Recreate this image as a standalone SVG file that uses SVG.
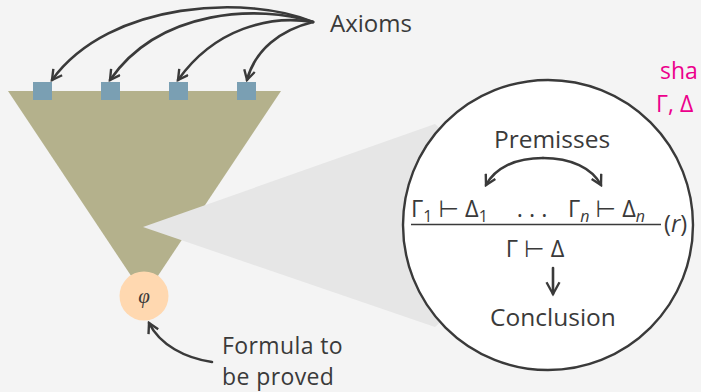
<svg xmlns="http://www.w3.org/2000/svg" width="701" height="392" viewBox="0 0 701 392">
<style>
.t{font-family:"Open Sans","Noto Sans","DejaVu Sans",sans-serif;fill:#3a3a3a;font-size:24px}
.m{font-family:"Open Sans","DejaVu Sans",sans-serif;fill:#3a3a3a;font-size:23.5px}
.sub{font-size:16px}
.pk{font-family:"Open Sans","DejaVu Sans",sans-serif;fill:#ec008c;font-size:23px}
.c{fill:none;stroke:#3a3a3a;stroke-width:2.6;stroke-linecap:round}
</style>
<defs>
<marker id="ah" viewBox="0 0 12 12" refX="10" refY="6" markerWidth="5" markerHeight="5" orient="auto" markerUnits="strokeWidth">
<path d="M1,1 L10,6 L1,11" fill="none" stroke="#3a3a3a" stroke-width="2.2" stroke-linejoin="miter"/>
</marker>
<marker id="ah2" viewBox="0 0 12 12" refX="10" refY="6" markerWidth="6" markerHeight="6" orient="auto" markerUnits="strokeWidth">
<path d="M1,1 L10,6 L1,11" fill="none" stroke="#3a3a3a" stroke-width="1.8" stroke-linejoin="miter"/>
</marker>
</defs>
<rect width="701" height="392" fill="#f4f4f4"/>
<g id="tree">
<polygon points="8,91 281,91 144.5,296" fill="#b4b18c"/>
</g>
<g id="wedge"><polygon points="143,227 435,124 548,225 435,327" fill="#e6e6e6"/></g>
<g id="axiom1"><rect x="33" y="82" width="19" height="18" fill="#7a9fb3"/></g>
<g id="axiom2"><rect x="101" y="82" width="19" height="18" fill="#7a9fb3"/></g>
<g id="axiom3"><rect x="169" y="82" width="19" height="18" fill="#7a9fb3"/></g>
<g id="axiom4"><rect x="237" y="82" width="19" height="18" fill="#7a9fb3"/></g>
<g id="goal">
<circle cx="144" cy="296" r="24.5" fill="#ffd8b0"/>
<text x="144" y="303" text-anchor="middle" style="font-style:italic;font-size:21px;font-family:'Liberation Serif',serif;fill:#3a3a3a">φ</text>
</g>
<g id="axioms-label"><text x="330" y="32" class="t">Axioms</text></g>
<g id="formula-label">
<text class="t" style="font-size:23px;letter-spacing:0.4px"><tspan x="222" y="354">Formula to</tspan><tspan x="222" y="385">be proved</tspan></text>
</g>
<g id="pink">
<text class="pk"><tspan x="660" y="79">sha</tspan><tspan x="656" y="112">Γ, Δ</tspan></text>
</g>
<g id="rule">
<circle cx="548" cy="225" r="145" fill="#ffffff" stroke="#3a3a3a" stroke-width="2.4"/>
<text x="552" y="148" text-anchor="middle" class="t" style="font-size:24.5px">Premisses</text>
<text x="411" y="217" class="m">Γ<tspan class="sub" dy="5">1</tspan><tspan dy="-5"> ⊢ Δ</tspan><tspan class="sub" dy="5">1</tspan></text>
<text x="532" y="217" text-anchor="middle" class="m">. . .</text>
<text x="568" y="217" class="m">Γ<tspan class="sub" dy="5" font-style="italic">n</tspan><tspan dy="-5"> ⊢ Δ</tspan><tspan class="sub" dy="5" font-style="italic">n</tspan></text>
<line x1="411" y1="224.5" x2="661" y2="224.5" stroke="#3a3a3a" stroke-width="1.6"/>
<text x="664" y="232" class="m">(<tspan font-style="italic">r</tspan>)</text>
<text x="535" y="257" text-anchor="middle" class="m">Γ ⊢ Δ</text>
<text x="553" y="326" text-anchor="middle" class="t" style="font-size:24.5px">Conclusion</text>
</g>
<g id="connectors">
<path class="c" d="M313,22 C250,-5 110,0 52,80" marker-end="url(#ah)"/>
<path class="c" d="M313,22 C260,5 160,8 110,80" marker-end="url(#ah)"/>
<path class="c" d="M313,22 C270,15 215,28 178,80" marker-end="url(#ah)"/>
<path class="c" d="M313,22 C280,30 255,50 247,80" marker-end="url(#ah)"/>
<path class="c" d="M212,362 C185,358 160,345 149,323" marker-end="url(#ah)"/>
<path class="c" d="M543,158 C515,158 495,168 486,185" marker-end="url(#ah)" stroke-width="2.2"/>
<path class="c" d="M543,158 C571,158 592,168 601,185" marker-end="url(#ah)" stroke-width="2.2"/>
<path class="c" d="M553,268 L553,294" marker-end="url(#ah2)" stroke-width="1.6"/>
</g>
</svg>
